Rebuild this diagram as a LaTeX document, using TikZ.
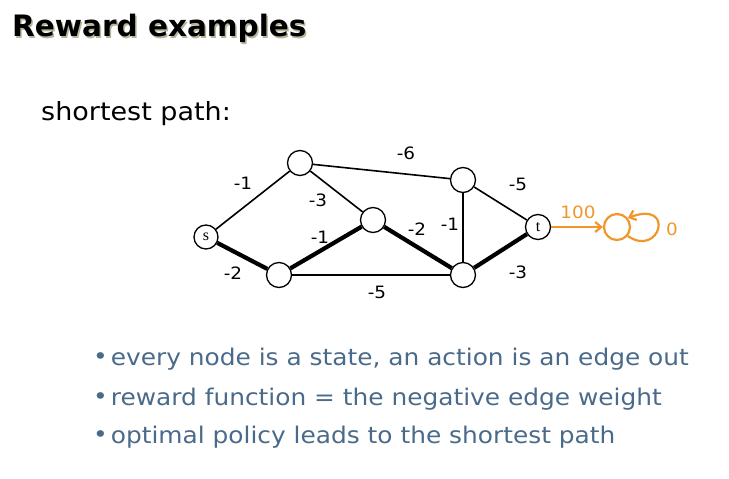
\documentclass[tikz,border=0pt]{standalone}
\usepackage{fontspec}
\setmainfont{DejaVu Sans}[FakeStretch=1.08]
\newfontfamily\titlefont{DejaVu Sans}[FakeStretch=1.0]
\newfontfamily\nodeserif{Liberation Serif}
\usetikzlibrary{arrows.meta}
\definecolor{bulletblue}{HTML}{4A6A8A}
\definecolor{rorange}{HTML}{F0962A}
\definecolor{shadowc}{HTML}{B8B49A}
\begin{document}
\begin{tikzpicture}[x=1pt,y=-1pt,
  vertex/.style={circle,draw,line width=1.3pt,minimum size=25pt,inner sep=0pt,fill=white,font=\nodeserif\fontsize{16}{18}\selectfont},
  thinedge/.style={line width=1.6pt},
  thickedge/.style={line width=4.2pt},
  wlabel/.style={font=\fontsize{17}{20}\selectfont,inner sep=0pt},
  bullettext/.style={anchor=base west,text=bulletblue,font=\fontsize{23}{26}\selectfont,inner sep=0pt},
  orangeline/.style={draw=rorange,line width=2.2pt,-{Straight Barb[length=6pt,width=10pt]}}
]
\useasboundingbox (0,0) rectangle (729,479);
% title
\node[anchor=base west,inner sep=0pt,text=shadowc,font=\titlefont\bfseries\fontsize{29.5}{34}\selectfont] (titleshadow) at (13.5,38) {Reward examples};
\node[anchor=base west,inner sep=0pt,font=\titlefont\bfseries\fontsize{29.5}{34}\selectfont] (title) at (12,36) {Reward examples};
\node[anchor=base west,inner sep=0pt,font=\fontsize{25}{28}\selectfont] (sp) at (41,120) {shortest path:};
% vertices
\node[vertex,minimum size=24pt] (s) at (206,237) {s};
\node[vertex] (a) at (300,163) {};
\node[vertex] (b) at (373,220) {};
\node[vertex] (c) at (279,275) {};
\node[vertex] (d) at (463,180) {};
\node[vertex] (e) at (463,275) {};
\node[vertex] (t) at (538,227) {t};
\node[circle,draw=rorange,line width=2.2pt,minimum size=26pt,inner sep=0pt] (term) at (617,227) {};
% edges
\draw[thinedge] (s) -- (a);
\draw[thickedge] (s) -- (c);
\draw[thinedge] (a) -- (b);
\draw[thinedge] (a) -- (d);
\draw[thickedge] (c) -- (b);
\draw[thinedge] (c) -- (e);
\draw[thickedge] (b) -- (e);
\draw[thinedge] (d) -- (e);
\draw[thinedge] (d) -- (t);
\draw[thickedge] (e) -- (t);
\draw[orangeline] (t) -- (term);
\draw[orangeline] (term.-40) .. controls (660,258) and (676,200) .. (term.40);
% weights
\node[wlabel] (w1) at (243,183) {-1};
\node[wlabel] (w2) at (318,200) {-3};
\node[wlabel] (w3) at (406,153) {-6};
\node[wlabel] (w4) at (518,184) {-5};
\node[wlabel] (w5) at (320,237) {-1};
\node[wlabel] (w6) at (417,229) {-2};
\node[wlabel] (w7) at (450,224) {-1};
\node[wlabel] (w8) at (233,273) {-2};
\node[wlabel] (w9) at (377,292) {-5};
\node[wlabel] (w10) at (518,272) {-3};
\node[wlabel,text=rorange] (w11) at (578,212) {100};
\node[wlabel,text=rorange] (w12) at (672,229) {0};
% bullets
\node[bullettext] (l1) at (93,365) {\raisebox{1pt}{•}\hspace{3pt}every node is a state, an action is an edge out};
\node[bullettext] (l2) at (93,405) {\raisebox{1pt}{•}\hspace{3pt}reward function = the negative edge weight};
\node[bullettext] (l3) at (93,443) {\raisebox{1pt}{•}\hspace{3pt}optimal policy leads to the shortest path};
\end{tikzpicture}
\end{document}
